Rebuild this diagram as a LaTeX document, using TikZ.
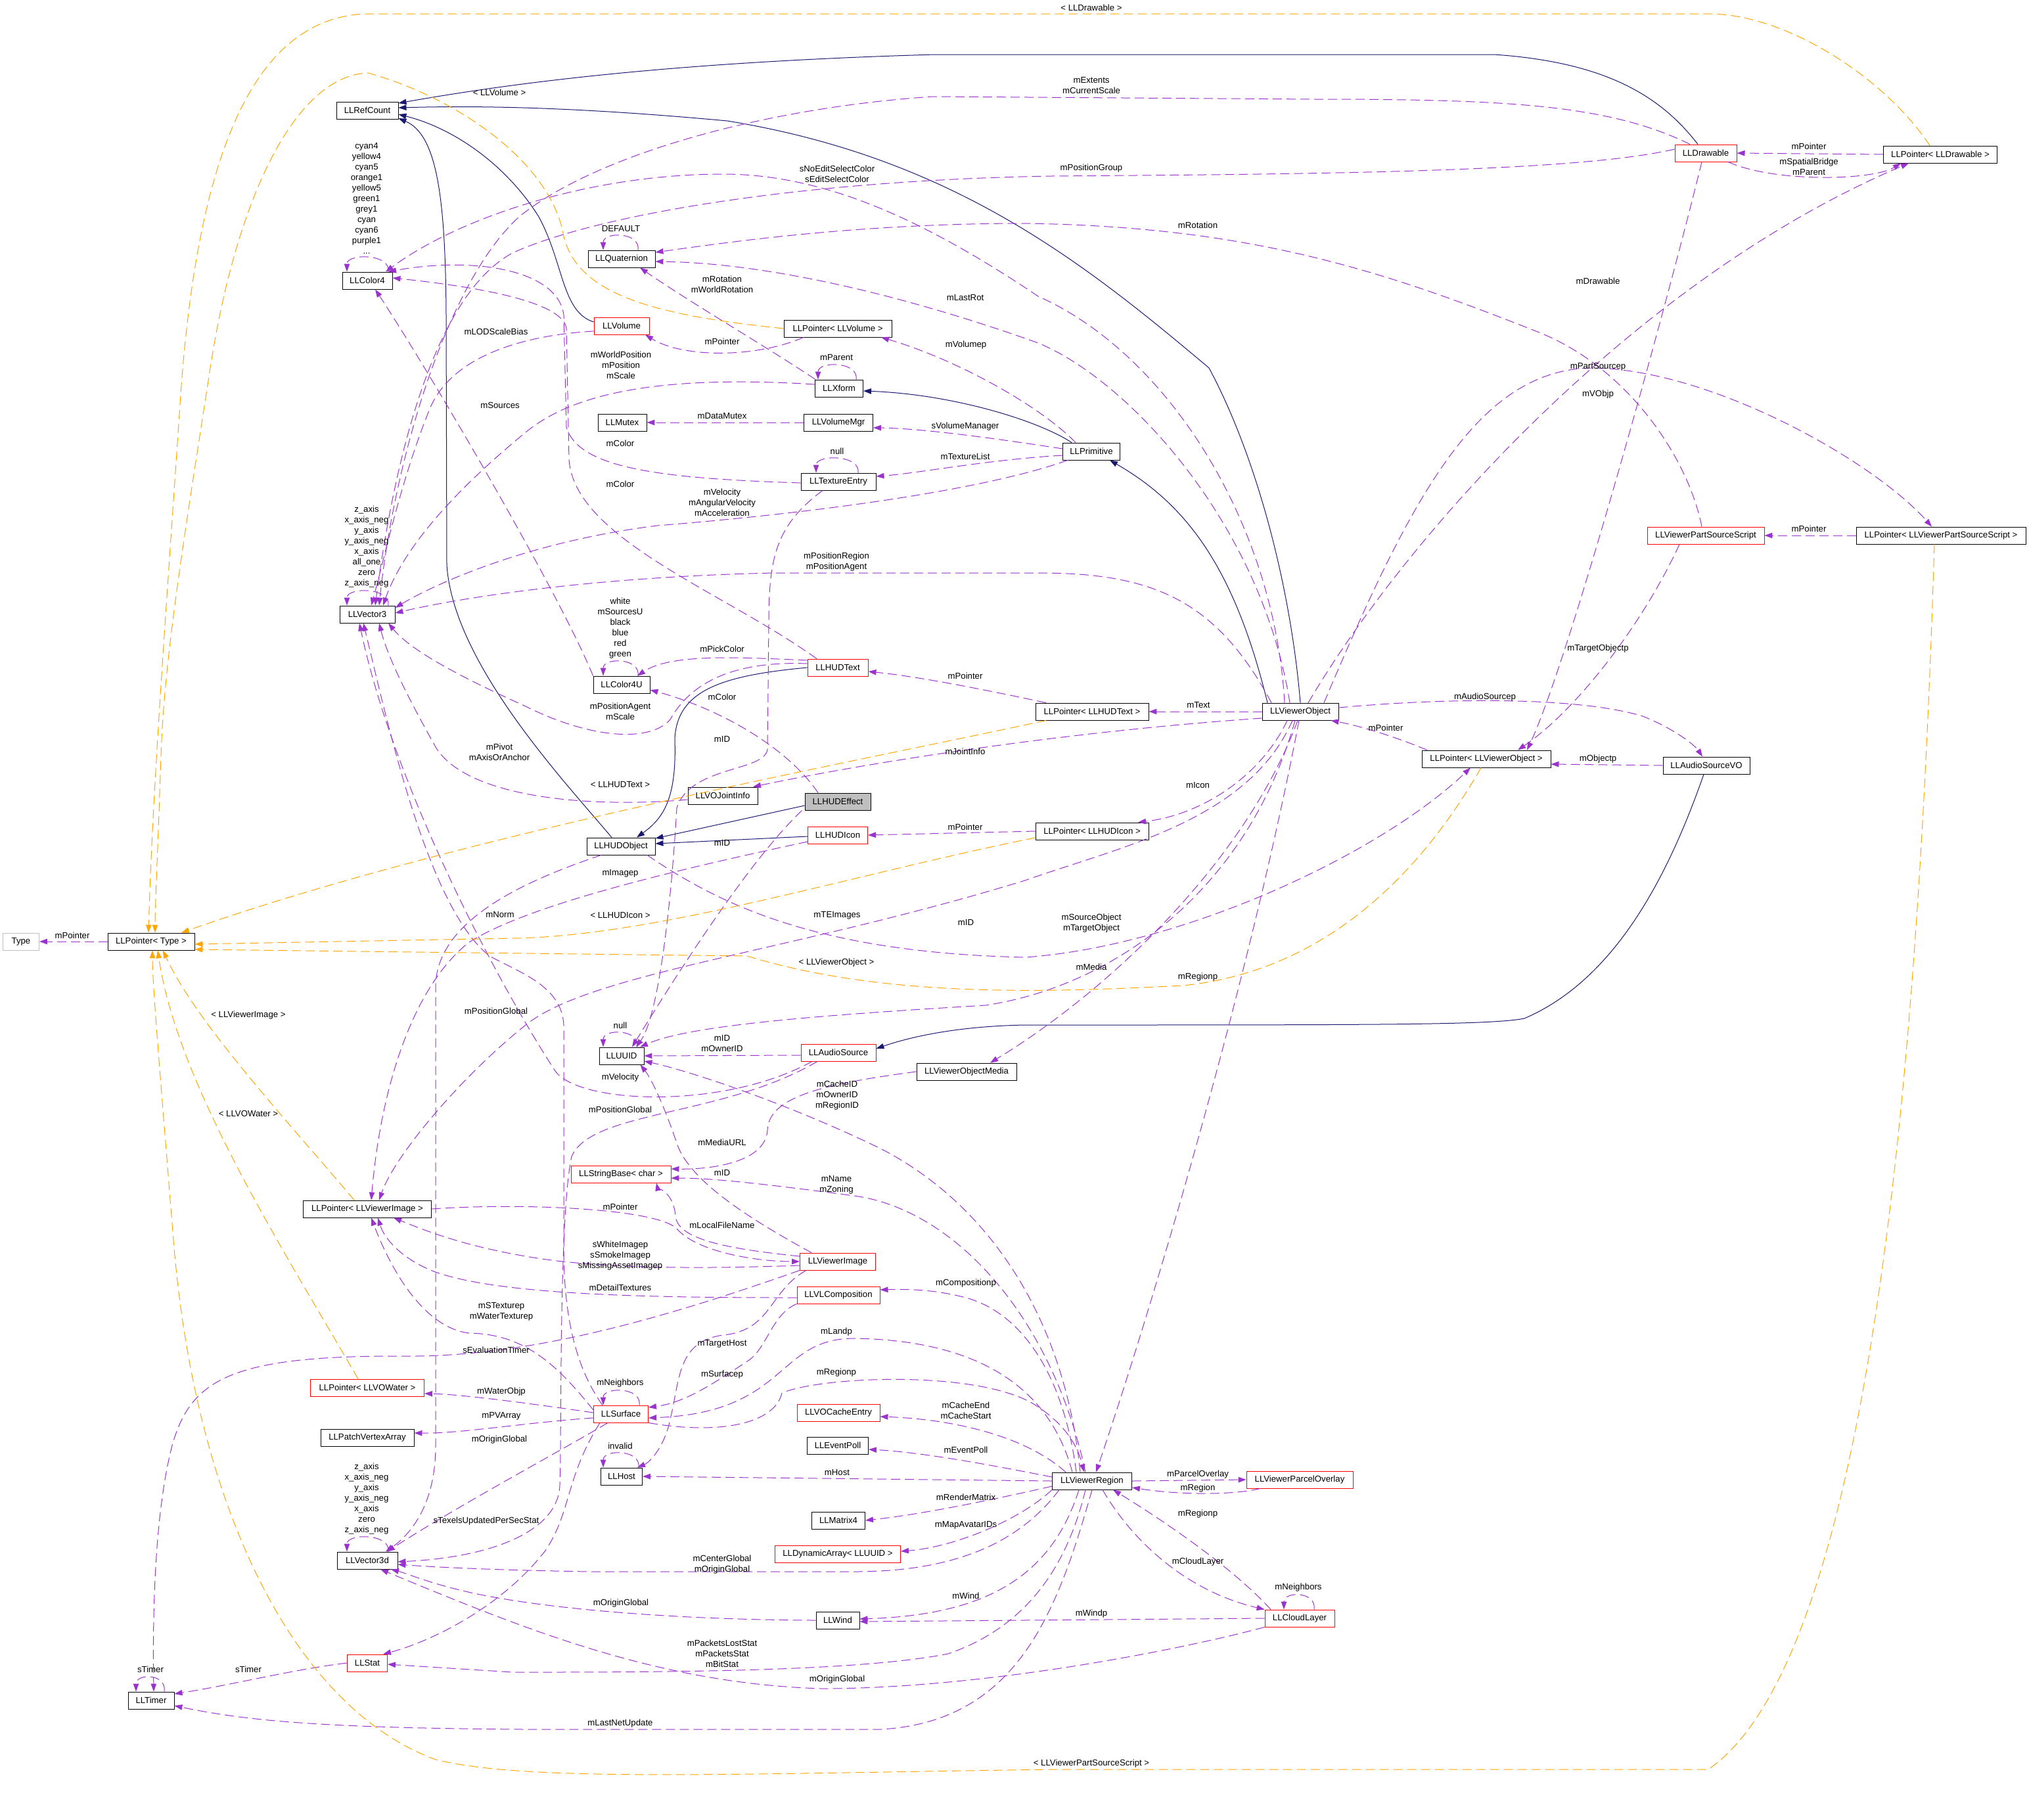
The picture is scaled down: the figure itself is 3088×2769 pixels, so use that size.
\documentclass[tikz,border=0pt]{standalone}
\usepackage{fontspec}
\setmainfont{Liberation Sans}
\usetikzlibrary{arrows.meta}
\definecolor{inhc}{HTML}{191970}
\definecolor{usec}{HTML}{9A32CD}
\definecolor{tplc}{HTML}{FFA500}
\definecolor{grayc}{HTML}{BFBFBF}
\begin{document}
\begin{tikzpicture}[x=0.5pt,y=-0.5pt,
  every node/.style={font=\fontsize{6.6}{8}\selectfont},
  cls/.style={draw=black,line width=0.45pt,minimum height=13pt,inner sep=0pt},
  redcls/.style={cls,draw=red},
  lbl/.style={align=center,inner sep=0pt},
  inh/.style={draw=inhc,line width=0.5pt,-{Triangle[length=6pt,width=4.2pt]}},
  use/.style={draw=usec,line width=0.5pt,dash pattern=on 7pt off 3.5pt,-{Triangle[length=6pt,width=4.2pt]}},
  tpl/.style={draw=tplc,line width=0.5pt,dash pattern=on 7pt off 3.5pt,-{Triangle[length=6pt,width=4.2pt]}}]
\fill[white] (0,0) rectangle (3088,2769);
\useasboundingbox (0,0) rectangle (3088,2769);
% ---------------- nodes ----------------
\node[cls,minimum width=47pt] (refcount) at (559,168) {LLRefCount};
\node[cls,minimum width=38pt] (color4) at (559,427) {LLColor4};
\node[cls,minimum width=42pt] (vec3) at (559,935) {LLVector3};
\node[cls,draw=grayc,minimum width=27.5pt] (typ) at (32,1433) {Type};
\node[cls,minimum width=66pt] (ptype) at (230,1433) {LLPointer< Type >};
\node[cls,minimum width=97.5pt] (pvimg) at (559,1840) {LLPointer< LLViewerImage >};
\node[redcls,minimum width=86.5pt] (pwater) at (559,2112) {LLPointer< LLVOWater >};
\node[cls,minimum width=71pt] (patch) at (559,2188) {LLPatchVertexArray};
\node[cls,minimum width=46pt] (vec3d) at (559,2375) {LLVector3d};
\node[redcls,minimum width=30.5pt] (stat) at (559,2531) {LLStat};
\node[cls,minimum width=35pt] (timer) at (230,2588) {LLTimer};
\node[cls,minimum width=51pt] (quat) at (946,394) {LLQuaternion};
\node[redcls,minimum width=42pt] (volume) at (946,496) {LLVolume};
\node[cls,minimum width=82pt] (pvol) at (1275,500) {LLPointer< LLVolume >};
\node[cls,minimum width=36.5pt] (xform) at (1277,591) {LLXform};
\node[cls,minimum width=37pt] (mutex) at (947,643) {LLMutex};
\node[cls,minimum width=52.5pt] (volmgr) at (1276,643) {LLVolumeMgr};
\node[cls,minimum width=57pt] (texentry) at (1276,733) {LLTextureEntry};
\node[cls,minimum width=43.5pt] (prim) at (1661,687) {LLPrimitive};
\node[redcls,minimum width=47pt] (drawable) at (2596,233) {LLDrawable};
\node[cls,minimum width=86.5pt] (pdraw) at (2953,235) {LLPointer< LLDrawable >};
\node[redcls,minimum width=89pt] (partsrc) at (2596,815) {LLViewerPartSourceScript};
\node[cls,minimum width=129pt] (ppartsrc) at (2954,815) {LLPointer< LLViewerPartSourceScript >};
\node[cls,minimum width=43pt] (color4u) at (946,1042) {LLColor4U};
\node[redcls,minimum width=46pt] (hudtext) at (1275,1016) {LLHUDText};
\node[cls,minimum width=53pt] (joint) at (1100,1211) {LLVOJointInfo};
\node[cls,fill=grayc,minimum width=50pt] (hudeffect) at (1275,1220) {LLHUDEffect};
\node[cls,minimum width=52pt] (hudobj) at (945,1288) {LLHUDObject};
\node[redcls,minimum width=45.5pt] (hudicon) at (1275,1271) {LLHUDIcon};
\node[cls,minimum width=34pt] (uuid) at (946,1607) {LLUUID};
\node[redcls,minimum width=57pt] (audiosrc) at (1276,1602) {LLAudioSource};
\node[cls,minimum width=76pt] (objmedia) at (1471,1631) {LLViewerObjectMedia};
\node[redcls,minimum width=76pt] (strbase) at (945,1787) {LLStringBase< char >};
\node[cls,minimum width=86pt] (phudtext) at (1662,1083) {LLPointer< LLHUDText >};
\node[cls,minimum width=58pt] (vobj) at (1979,1083) {LLViewerObject};
\node[cls,minimum width=98pt] (pvobj) at (2262,1155) {LLPointer< LLViewerObject >};
\node[cls,minimum width=86pt] (phudicon) at (1662,1265) {LLPointer< LLHUDIcon >};
\node[cls,minimum width=66pt] (audiovo) at (2597,1165) {LLAudioSourceVO};
\node[redcls,minimum width=57.5pt] (vimg) at (1275,1920) {LLViewerImage};
\node[redcls,minimum width=63pt] (vlcomp) at (1276,1971) {LLVLComposition};
\node[redcls,minimum width=41.5pt] (surface) at (945,2152) {LLSurface};
\node[redcls,minimum width=63pt] (cache) at (1276,2150) {LLVOCacheEntry};
\node[cls,minimum width=46.5pt] (eventpoll) at (1275,2200) {LLEventPoll};
\node[cls,minimum width=31.5pt] (host) at (946,2247) {LLHost};
\node[cls,minimum width=40.5pt] (matrix) at (1276,2314) {LLMatrix4};
\node[redcls,minimum width=95.5pt] (dynarr) at (1275,2365) {LLDynamicArray< LLUUID >};
\node[cls,minimum width=33pt] (wind) at (1275,2466) {LLWind};
\node[cls,minimum width=60.5pt] (region) at (1662,2254) {LLViewerRegion};
\node[redcls,minimum width=81pt] (parcel) at (1978,2252) {LLViewerParcelOverlay};
\node[redcls,minimum width=53pt] (cloud) at (1978,2463) {LLCloudLayer};
% ---------------- inheritance ----------------
\draw[inh] ([xshift=-6pt]drawable.north) .. controls (2530,150) and (2450,95) .. (2274,83) -- (1423,83) .. controls (1000,95) and (760,130) .. ([yshift=5.5pt]refcount.east);
\draw[inh] (vobj.north) .. controls (1965,900) and (1915,700) .. (1840,560) .. controls (1650,400) and (1450,240) .. (1107,184) .. controls (900,165) and (750,160) .. ([yshift=2pt]refcount.east);
\draw[inh] ([yshift=3pt]volume.west) .. controls (855,475) and (858,400) .. (820,330) .. controls (770,250) and (690,195) .. ([yshift=-3pt]refcount.east);
\draw[inh] ([xshift=-7pt]hudobj.north) .. controls (860,1190) and (690,1010) .. (680,860) -- (679,480) .. controls (678,300) and (665,205) .. ([yshift=-6pt]refcount.east);
\draw[inh] ([xshift=-15pt]prim.north) .. controls (1580,640) and (1450,600) .. ([yshift=-2pt]xform.east);
\draw[inh] ([xshift=-25pt]vobj.north) .. controls (1880,870) and (1810,770) .. ([xshift=14pt]prim.south);
\draw[inh] (hudtext.west) .. controls (1100,1028) and (1030,1050) .. (1027,1125) .. controls (1030,1215) and (1010,1245) .. ([xshift=12pt]hudobj.north);
\draw[inh] ([yshift=-3pt]hudeffect.west) -- ([yshift=6pt]hudobj.east);
\draw[inh] ([yshift=-1pt]hudicon.west) -- ([yshift=2pt]hudobj.east);
\draw[inh] ([xshift=-2pt]audiovo.south) .. controls (2540,1330) and (2460,1490) .. (2320,1550) .. controls (2270,1560) and (2100,1560) .. (1560,1560) .. controls (1450,1562) and (1380,1580) .. ([yshift=3pt]audiosrc.east);
% ---------------- self loops ----------------
\draw[use] ([xshift=16pt]color4.north) .. controls +(2pt,14pt) and +(0pt,14pt) .. ([xshift=-15.5pt]color4.north);
\draw[use] ([xshift=16pt]vec3.north) .. controls +(2pt,14pt) and +(0pt,14pt) .. ([xshift=-15.5pt]vec3.north);
\draw[use] ([xshift=12.5pt]quat.north) .. controls +(2pt,14pt) and +(0pt,14pt) .. ([xshift=-14pt]quat.north);
\draw[use] ([xshift=13pt]xform.north) .. controls +(2pt,14pt) and +(0pt,14pt) .. ([xshift=-16pt]xform.north);
\draw[use] ([xshift=15pt]texentry.north) .. controls +(2pt,14pt) and +(0pt,14pt) .. ([xshift=-17pt]texentry.north);
\draw[use] ([xshift=12.5pt]color4u.north) .. controls +(2pt,14pt) and +(0pt,14pt) .. ([xshift=-14pt]color4u.north);
\draw[use] ([xshift=12pt]uuid.north) .. controls +(2pt,14pt) and +(0pt,14pt) .. ([xshift=-14pt]uuid.north);
\draw[use] ([xshift=14pt]surface.north) .. controls +(2pt,14pt) and +(0pt,14pt) .. ([xshift=-13.5pt]surface.north);
\draw[use] ([xshift=13pt]host.north) .. controls +(2pt,14pt) and +(0pt,14pt) .. ([xshift=-14pt]host.north);
\draw[use] ([xshift=16pt]vec3d.north) .. controls +(2pt,14pt) and +(0pt,14pt) .. ([xshift=-15.5pt]vec3d.north);
\draw[use] ([xshift=10pt]timer.north) .. controls +(2pt,14pt) and +(0pt,14pt) .. ([xshift=-11.5pt]timer.north);
\draw[use] ([xshift=11pt]cloud.north) .. controls +(2pt,14pt) and +(0pt,14pt) .. ([xshift=-12pt]cloud.north);
% ---------------- usage: upper part ----------------
\draw[use] ([xshift=-12pt]vobj.north) .. controls (1940,800) and (1780,540) .. (1580,451) .. controls (1400,330) and (1250,265) .. (1100,265) .. controls (900,265) and (700,330) .. ([xshift=14pt]color4.north);
\draw[use] ([xshift=-12pt]drawable.north) .. controls (2450,160) and (2300,151) .. (2000,151) -- (1420,147) .. controls (1150,165) and (900,240) .. (790,330) .. controls (680,430) and (600,700) .. ([xshift=9pt]vec3.north);
\draw[use] ([yshift=3pt]drawable.west) .. controls (2400,262) and (2000,265) .. (1600,268) .. controls (1200,275) and (900,330) .. (780,385) .. controls (660,450) and (600,700) .. ([xshift=6pt]vec3.north);
\draw[use] ([yshift=-1pt]texentry.west) .. controls (1000,728) and (880,712) .. (862,650) -- (858,480) .. controls (850,410) and (720,390) .. ([xshift=16pt]color4.north);
\draw[use] ([xshift=-16pt]hudtext.north) .. controls (1100,900) and (875,820) .. (866,700) -- (862,500) .. controls (858,465) and (760,440) .. ([yshift=2pt]color4.east);
\draw[use] (color4u.north west) .. controls (850,900) and (650,560) .. ([xshift=6pt]color4.south);
\draw[use] ([yshift=-4pt]volume.west) .. controls (800,510) and (690,540) .. (655,620) .. controls (610,730) and (585,850) .. ([xshift=3pt]vec3.north);
\draw[use] ([yshift=3pt]xform.west) .. controls (1000,570) and (870,600) .. (800,658) .. controls (700,740) and (615,830) .. ([xshift=12pt]vec3.north);
\draw[use] ([xshift=-18pt]prim.south) .. controls (1500,745) and (1250,780) .. (1000,800) .. controls (800,825) and (660,890) .. ([yshift=5pt]vec3.east);
\draw[use] ([xshift=-22pt]vobj.north) .. controls (1850,910) and (1750,872) .. (1580,872) -- (1178,872) .. controls (900,878) and (700,910) .. ([yshift=1pt]vec3.east);
\draw[use] ([yshift=-3pt]joint.west) .. controls (900,1230) and (710,1215) .. (663,1137) .. controls (620,1060) and (590,1000) .. ([xshift=9pt]vec3.south);
\draw[use] ([yshift=3pt]hudtext.west) .. controls (1100,1005) and (1045,1050) .. (1020,1095) .. controls (990,1130) and (900,1125) .. (800,1075) .. controls (700,1030) and (625,990) .. ([xshift=16pt]vec3.south);
\draw[use] ([xshift=-14pt]surface.north) .. controls (875,2080) and (858,2000) .. (858,1900) -- (858,1560) .. controls (855,1500) and (790,1480) .. (745,1455) .. controls (650,1380) and (590,1100) .. ([xshift=-3pt]vec3.south);
\draw[use] ([xshift=-15pt]hudobj.south) .. controls (800,1340) and (665,1400) .. (663,1500) -- (663,2200) .. controls (663,2290) and (625,2335) .. ([xshift=14pt]vec3d.north);
\draw[use] ([xshift=-18pt]xform.north) .. controls (1170,530) and (1050,460) .. ([xshift=14pt]quat.south);
\draw[use] ([xshift=-8pt]vobj.north) .. controls (1920,800) and (1720,580) .. (1580,522) .. controls (1350,440) and (1150,400) .. ([yshift=-2pt]quat.east);
\draw[use] ([xshift=-3pt]partsrc.north) .. controls (2570,700) and (2480,560) .. (2340,505) .. controls (2100,410) and (1900,345) .. (1560,340) .. controls (1300,340) and (1100,370) .. ([yshift=5pt]quat.east);
\draw[use] ([xshift=-26pt]pvol.south) .. controls (1150,545) and (1040,545) .. ([xshift=18pt]volume.south);
\draw[use] ([xshift=-12pt]prim.north) .. controls (1580,615) and (1450,545) .. ([xshift=33pt]pvol.south);
\draw[use] (volmgr.west) -- (mutex.east);
\draw[use] ([yshift=2pt]prim.west) .. controls (1500,665) and (1400,652) .. ([yshift=-4pt]volmgr.east);
\draw[use] ([yshift=-3pt]prim.west) .. controls (1500,700) and (1400,720) .. ([yshift=4pt]texentry.east);
\draw[use] (pdraw.west) -- (drawable.east);
\draw[use] ([xshift=17pt]drawable.south) .. controls (2700,278) and (2850,275) .. ([xshift=-30pt]pdraw.south);
\draw[use] ([xshift=6pt]vobj.north) .. controls (2150,800) and (2500,420) .. ([xshift=-24pt]pdraw.south);
\draw[use] ([xshift=-3pt]drawable.south) .. controls (2540,450) and (2390,1000) .. ([xshift=31pt]pvobj.north);
\draw[use] ([xshift=-20pt]partsrc.south) .. controls (2500,950) and (2400,1080) .. ([xshift=24pt]pvobj.north);
\draw[use] ([xshift=18pt]vobj.north) .. controls (2150,750) and (2250,565) .. (2420,560) .. controls (2600,560) and (2850,700) .. ([xshift=-7pt]ppartsrc.north);
\draw[use] (ppartsrc.west) -- (partsrc.east);
% ---------------- usage: middle ----------------
\draw[use] ([yshift=5.5pt]hudtext.west) .. controls (1120,1000) and (1020,995) .. ([xshift=12pt]color4u.north);
\draw[use] ([xshift=-15pt]hudeffect.north) .. controls (1200,1140) and (1100,1080) .. ([yshift=-4pt]color4u.east);
\draw[use] ([xshift=-35pt]phudtext.north) .. controls (1500,1050) and (1400,1030) .. ([yshift=-3pt]hudtext.east);
\draw[use] (vobj.west) -- (phudtext.east);
\draw[use] ([yshift=-5pt]vobj.west) .. controls (1600,1115) and (1300,1165) .. ([xshift=23pt]joint.north);
\draw[use] (phudicon.west) -- (hudicon.east);
\draw[use] ([xshift=-10pt]vobj.south) .. controls (1920,1180) and (1830,1240) .. ([xshift=35pt]phudicon.north);
\draw[use] ([yshift=-5pt]hudicon.west) .. controls (1000,1330) and (800,1380) .. (714,1434) .. controls (630,1500) and (580,1650) .. ([xshift=3pt]pvimg.north);
\draw[use] ([xshift=20pt]hudobj.south) .. controls (1100,1380) and (1250,1450) .. (1560,1457) .. controls (1800,1440) and (2100,1300) .. ([xshift=-12pt]pvobj.south);
\draw[use] ([xshift=-6pt]vobj.south) .. controls (1900,1250) and (1700,1290) .. (1560,1340) .. controls (1200,1450) and (900,1480) .. (800,1560) .. controls (700,1640) and (600,1760) .. ([xshift=9pt]pvimg.north);
\draw[use] ([xshift=-4pt]vobj.south) .. controls (1900,1350) and (1700,1500) .. (1500,1530) .. controls (1250,1545) and (1050,1560) .. ([xshift=14pt]uuid.north);
\draw[use] ([xshift=-2pt]hudeffect.south west) .. controls (1150,1300) and (1050,1450) .. ([xshift=8pt]uuid.north);
\draw[use] ([xshift=-12pt]texentry.south) .. controls (1180,800) and (1170,850) .. (1170,950) -- (1168,1140) .. controls (1165,1175) and (1050,1165) .. (1030,1230) .. controls (1020,1400) and (1000,1550) .. ([xshift=11pt]uuid.north);
\draw[use] ([yshift=-2pt]audiosrc.west) -- (uuid.east);
\draw[use] ([xshift=-9pt]region.north) .. controls (1620,2000) and (1500,1830) .. (1340,1748) .. controls (1200,1680) and (1050,1630) .. ([yshift=-4pt]uuid.east);
\draw[use] ([xshift=-20pt]audiosrc.south) .. controls (1100,1690) and (880,1680) .. (845,1630) .. controls (760,1500) and (600,1200) .. ([xshift=-6pt]vec3.south);
\draw[use] ([xshift=-16pt]audiosrc.south) .. controls (1100,1700) and (900,1690) .. (870,1760) .. controls (850,1850) and (855,2200) .. (852,2260) .. controls (850,2330) and (750,2370) .. ([yshift=-1pt]vec3d.east);
\draw[use] (objmedia.west) .. controls (1250,1650) and (1170,1670) .. (1168,1720) .. controls (1165,1770) and (1080,1780) .. ([yshift=4pt]strbase.east);
\draw[use] ([xshift=-2pt]vobj.south) .. controls (1900,1300) and (1700,1500) .. ([xshift=18pt]objmedia.north);
\draw[use] ([xshift=-1pt]vobj.south) .. controls (1900,1500) and (1750,2000) .. ([xshift=3pt]region.north);
\draw[use] ([xshift=-45pt]pvobj.north) .. controls (2120,1120) and (2070,1105) .. ([xshift=-6pt]vobj.south east);
\draw[use] ([yshift=3pt]vobj.east) .. controls (2200,1062) and (2400,1060) .. (2500,1090) .. controls (2550,1110) and (2580,1135) .. ([xshift=-3pt]audiovo.north);
\draw[use] (audiovo.west) -- ([yshift=-4pt]pvobj.east);
\draw[use] (ptype.west) -- (typ.east);
% ---------------- usage: lower part ----------------
\draw[use] ([yshift=4pt]vimg.west) .. controls (1100,1900) and (1030,1885) .. (1028,1850) .. controls (1025,1815) and (1000,1805) .. ([xshift=27pt]strbase.south);
\draw[use] ([xshift=-20pt]vimg.north) .. controls (1150,1860) and (1050,1800) .. (1030,1740) .. controls (1010,1680) and (990,1640) .. ([xshift=-3pt]uuid.south east);
\draw[use] ([xshift=-5pt]region.north) .. controls (1600,2000) and (1450,1840) .. (1300,1820) .. controls (1150,1800) and (1080,1793) .. ([yshift=-3pt]strbase.east);
\draw[use] ([yshift=-3pt]vimg.west) .. controls (1050,1932) and (900,1930) .. (800,1912) .. controls (700,1895) and (640,1870) .. ([xshift=20pt]pvimg.south);
\draw[use] (pvimg.east) .. controls (800,1830) and (1000,1840) .. (1030,1870) .. controls (1060,1905) and (1150,1920) .. (vimg.west);
\draw[use] ([yshift=-2pt]vlcomp.west) .. controls (1000,1975) and (760,1972) .. (660,1935) .. controls (610,1915) and (585,1885) .. ([xshift=8pt]pvimg.south);
\draw[use] ([yshift=3pt]surface.west) .. controls (850,2080) and (800,2030) .. (714,2029) .. controls (640,2020) and (590,1920) .. ([xshift=3pt]pvimg.south);
\draw[use] ([xshift=-24pt]vimg.south) .. controls (1170,1965) and (1175,2025) .. (1100,2032) .. controls (1030,2042) and (1035,2100) .. (1020,2160) .. controls (1012,2200) and (990,2225) .. ([xshift=12pt]host.north);
\draw[use] (vimg.south west) .. controls (1000,2010) and (800,2066) .. (612,2064) .. controls (350,2063) and (290,2100) .. (262,2200) .. controls (236,2300) and (232,2450) .. ([xshift=2pt]timer.north);
\draw[use] ([yshift=1pt]surface.west) .. controls (800,2135) and (700,2122) .. ([yshift=-4.5pt]pwater.east);
\draw[use] ([yshift=-3pt]surface.west) .. controls (800,2165) and (700,2182) .. ([yshift=3.5pt]patch.east);
\draw[use] ([xshift=-10pt]surface.south) .. controls (850,2210) and (700,2290) .. ([xshift=15pt]vec3d.north);
\draw[use] ([xshift=-16pt]surface.south) .. controls (860,2250) and (870,2300) .. (830,2360) .. controls (760,2450) and (650,2500) .. ([xshift=12pt]stat.north);
\draw[use] (vlcomp.south west) .. controls (1175,2000) and (1168,2050) .. (1140,2070) .. controls (1080,2110) and (1040,2135) .. ([yshift=5pt]surface.east);
\draw[use] ([xshift=-15pt]region.north) .. controls (1600,2120) and (1500,2040) .. (1300,2037) .. controls (1180,2037) and (1200,2150) .. ([yshift=-3pt]surface.east);
\draw[use] (surface.south east) .. controls (1100,2185) and (1180,2165) .. (1190,2120) .. controls (1250,2095) and (1480,2085) .. (1570,2135) .. controls (1620,2165) and (1640,2200) .. ([xshift=-6pt]region.north);
\draw[use] ([xshift=-12pt]region.north) .. controls (1620,2100) and (1560,2000) .. (1470,1975) .. controls (1420,1962) and (1380,1962) .. ([yshift=4pt]vlcomp.east);
\draw[use] ([xshift=-20pt]region.north) .. controls (1560,2185) and (1450,2160) .. ([yshift=-3pt]cache.east);
\draw[use] ([yshift=3pt]region.west) .. controls (1500,2228) and (1400,2210) .. ([yshift=-3pt]eventpoll.east);
\draw[use] (region.west) -- (host.east);
\draw[use] ([yshift=-4pt]region.west) .. controls (1500,2285) and (1400,2305) .. (matrix.east);
\draw[use] (region.south west) .. controls (1550,2315) and (1450,2355) .. ([yshift=2pt]dynarr.east);
\draw[use] ([xshift=-25pt]region.south) .. controls (1550,2350) and (1450,2392) .. (1300,2392) -- (900,2392) .. controls (760,2390) and (660,2385) .. ([yshift=-3pt]vec3d.east);
\draw[use] ([xshift=-10pt]region.south) .. controls (1600,2400) and (1500,2458) .. ([yshift=1pt]wind.east);
\draw[use] (cloud.west) -- ([yshift=-1pt]wind.east);
\draw[use] (wind.west) .. controls (1000,2465) and (800,2445) .. (700,2420) .. controls (650,2408) and (620,2395) .. ([xshift=18pt]vec3d.south);
\draw[use] ([xshift=-5pt]region.south) .. controls (1620,2400) and (1550,2480) .. (1443,2517) .. controls (1300,2545) and (1000,2545) .. (780,2545) -- ([yshift=-1pt]stat.east);
\draw[use] (cloud.south west) .. controls (1800,2510) and (1500,2570) .. (1250,2570) .. controls (1000,2562) and (800,2480) .. ([xshift=10pt]vec3d.south);
\draw[use] (region.south) .. controls (1610,2450) and (1550,2620) .. (1341,2632) -- (800,2632) .. controls (500,2630) and (380,2620) .. ([yshift=-4pt]timer.east);
\draw[use] (stat.west) .. controls (450,2540) and (350,2565) .. ([yshift=5pt]timer.east);
\draw[use] (region.east) -- (parcel.west);
\draw[use] ([xshift=-30pt]parcel.south) .. controls (1880,2275) and (1800,2276) .. ([yshift=-5pt]region.east);
\draw[use] ([xshift=-22pt]cloud.north) .. controls (1880,2390) and (1780,2320) .. ([xshift=16pt]region.south);
\draw[use] ([xshift=8pt]region.south) .. controls (1720,2340) and (1800,2420) .. (cloud.north west);
% ---------------- templates ----------------
\draw[tpl] ([xshift=-35pt]phudtext.south) .. controls (1300,1160) and (700,1270) .. ([xshift=23pt]ptype.north);
\draw[tpl] ([yshift=-5pt]phudicon.west) .. controls (1300,1330) and (1000,1425) .. (780,1428) -- ([yshift=-2pt]ptype.east);
\draw[tpl] ([xshift=-4pt]pvobj.south) .. controls (2150,1350) and (2000,1480) .. (1800,1500) .. controls (1600,1510) and (1350,1520) .. (1137,1455) -- ([yshift=-6pt]ptype.east);
\draw[tpl] ([xshift=-5pt]ppartsrc.south) .. controls (2920,1600) and (2850,2520) .. (2600,2693) -- (1600,2693) .. controls (1100,2700) and (800,2712) .. (663,2678) .. controls (450,2600) and (300,2300) .. (265,1900) .. controls (245,1650) and (232,1500) .. ([xshift=1pt]ptype.south);
\draw[tpl] ([xshift=-8pt]pdraw.north) .. controls (2870,120) and (2720,21) .. (2600,21) -- (560,21) .. controls (380,25) and (300,250) .. (275,600) .. controls (255,900) and (232,1200) .. ([xshift=-2pt]ptype.north);
\draw[tpl] (pvol.west) .. controls (1000,480) and (880,450) .. (858,360) .. controls (840,250) and (700,150) .. (560,111) .. controls (450,115) and (360,300) .. (320,560) .. controls (280,820) and (250,1000) .. (245,1150) .. controls (240,1300) and (236,1380) .. ([xshift=3pt]ptype.north);
\draw[tpl] ([xshift=-10pt]pvimg.north) .. controls (450,1720) and (300,1560) .. ([xshift=9pt]ptype.south);
\draw[tpl] ([xshift=-7pt]pwater.north) .. controls (430,1900) and (270,1650) .. ([xshift=5pt]ptype.south);
% ---------------- labels ----------------
\node[lbl] (l1) at (1661,12) {< LLDrawable >};
\node[lbl] (l2) at (1661,130) {mExtents\\mCurrentScale};
\node[lbl] (l3) at (760,141) {< LLVolume >};
\node[lbl] (l4) at (1661,256) {mPositionGroup};
\node[lbl] (l5) at (1274,265) {sNoEditSelectColor\\sEditSelectColor};
\node[lbl] (l6) at (1823,343) {mRotation};
\node[lbl] (l7) at (945,348) {DEFAULT};
\node[lbl] (l8) at (1099,433) {mRotation\\mWorldRotation};
\node[lbl] (l9) at (1469,453) {mLastRot};
\node[lbl] (l10) at (755,505) {mLODScaleBias};
\node[lbl] (l11) at (1099,520) {mPointer};
\node[lbl] (l12) at (1470,525) {mVolumep};
\node[lbl] (l13) at (1273,544) {mParent};
\node[lbl] (l14) at (945,556) {mWorldPosition\\mPosition\\mScale};
\node[lbl] (l15) at (761,617) {mSources};
\node[lbl] (l16) at (1099,633) {mDataMutex};
\node[lbl] (l17) at (1469,649) {sVolumeManager};
\node[lbl] (l18) at (944,675) {mColor};
\node[lbl] (l19) at (1274,687) {null};
\node[lbl] (l20) at (1469,695) {mTextureList};
\node[lbl] (l21) at (944,737) {mColor};
\node[lbl] (l22) at (1099,765) {mVelocity\\mAngularVelocity\\mAcceleration};
\node[lbl] (l23) at (1273,855) {mPositionRegion\\mPositionAgent};
\node[lbl] (l24) at (558,301.5) {cyan4\\yellow4\\cyan5\\orange1\\yellow5\\green1\\grey1\\cyan\\cyan6\\purple1\\...};
\node[lbl] (l25) at (558,832) {z\_axis\\x\_axis\_neg\\y\_axis\\y\_axis\_neg\\x\_axis\\all\_one\\zero\\z\_axis\_neg};
\node[lbl] (l26) at (2432,428) {mDrawable};
\node[lbl] (l27) at (2753,223) {mPointer};
\node[lbl] (l28) at (2753,254) {mSpatialBridge\\mParent};
\node[lbl] (l29) at (2432,558) {mPartSourcep};
\node[lbl] (l30) at (2432,600) {mVObjp};
\node[lbl] (l31) at (2753,805) {mPointer};
\node[lbl] (l32) at (944,956) {white\\mSourcesU\\black\\blue\\red\\green};
\node[lbl] (l33) at (1099,988) {mPickColor};
\node[lbl] (l34) at (1469,1029) {mPointer};
\node[lbl] (l35) at (1099,1061) {mColor};
\node[lbl] (l36) at (944,1083) {mPositionAgent\\mScale};
\node[lbl] (l37) at (1099,1125) {mID};
\node[lbl] (l38) at (1469,1144) {mJointInfo};
\node[lbl] (l39) at (760,1145) {mPivot\\mAxisOrAnchor};
\node[lbl] (l40) at (944,1194) {< LLHUDText >};
\node[lbl] (l41) at (1469,1259) {mPointer};
\node[lbl] (l42) at (1099,1283) {mID};
\node[lbl] (l43) at (944,1329) {mImagep};
\node[lbl] (l44) at (761,1392) {mNorm};
\node[lbl] (l45) at (944,1393) {< LLHUDIcon >};
\node[lbl] (l46) at (1274,1393) {mTEImages};
\node[lbl] (l47) at (1470,1404) {mID};
\node[lbl] (l48) at (1273,1465) {< LLViewerObject >};
\node[lbl] (l49) at (110,1424) {mPointer};
\node[lbl] (l50) at (378,1545) {< LLViewerImage >};
\node[lbl] (l51) at (755,1539) {mPositionGlobal};
\node[lbl] (l52) at (944,1561) {null};
\node[lbl] (l53) at (1099,1588) {mID\\mOwnerID};
\node[lbl] (l54) at (944,1640) {mVelocity};
\node[lbl] (l55) at (1274,1667) {mCacheID\\mOwnerID\\mRegionID};
\node[lbl] (l56) at (944,1689) {mPositionGlobal};
\node[lbl] (l57) at (378,1695) {< LLVOWater >};
\node[lbl] (l58) at (1099,1739) {mMediaURL};
\node[lbl] (l59) at (1099,1785) {mID};
\node[lbl] (l60) at (1273,1803) {mName\\mZoning};
\node[lbl] (l61) at (1824,1073) {mText};
\node[lbl] (l62) at (2260,1061) {mAudioSourcep};
\node[lbl] (l63) at (2109,1108) {mPointer};
\node[lbl] (l64) at (1823,1195) {mIcon};
\node[lbl] (l65) at (1661,1405) {mSourceObject\\mTargetObject};
\node[lbl] (l66) at (1661,1472) {mMedia};
\node[lbl] (l67) at (1823,1487) {mRegionp};
\node[lbl] (l68) at (2432,987) {mTargetObjectp};
\node[lbl] (l69) at (2432,1155) {mObjectp};
\node[lbl] (l70) at (944,1837) {mPointer};
\node[lbl] (l71) at (1099,1865) {mLocalFileName};
\node[lbl] (l72) at (944,1911) {sWhiteImagep\\sSmokeImagep\\sMissingAssetImagep};
\node[lbl] (l73) at (944,1960) {mDetailTextures};
\node[lbl] (l74) at (1470,1953) {mCompositionp};
\node[lbl] (l75) at (763,1996) {mSTexturep\\mWaterTexturep};
\node[lbl] (l76) at (1273,2027) {mLandp};
\node[lbl] (l77) at (1099,2045) {mTargetHost};
\node[lbl] (l78) at (755,2055) {sEvaluationTimer};
\node[lbl] (l79) at (1273,2089) {mRegionp};
\node[lbl] (l80) at (1099,2092) {mSurfacep};
\node[lbl] (l81) at (944,2105) {mNeighbors};
\node[lbl] (l82) at (763,2118) {mWaterObjp};
\node[lbl] (l83) at (1470,2147) {mCacheEnd\\mCacheStart};
\node[lbl] (l84) at (763,2155) {mPVArray};
\node[lbl] (l85) at (760,2191) {mOriginGlobal};
\node[lbl] (l86) at (944,2201) {invalid};
\node[lbl] (l87) at (1470,2207) {mEventPoll};
\node[lbl] (l88) at (1274,2241) {mHost};
\node[lbl] (l89) at (1823,2244) {mParcelOverlay};
\node[lbl] (l90) at (1823,2265) {mRegion};
\node[lbl] (l91) at (1470,2279) {mRenderMatrix};
\node[lbl] (l92) at (558,2281) {z\_axis\\x\_axis\_neg\\y\_axis\\y\_axis\_neg\\x\_axis\\zero\\z\_axis\_neg};
\node[lbl] (l93) at (1823,2304) {mRegionp};
\node[lbl] (l94) at (740,2315) {sTexelsUpdatedPerSecStat};
\node[lbl] (l95) at (1470,2321) {mMapAvatarIDs};
\node[lbl] (l96) at (1823,2377) {mCloudLayer};
\node[lbl] (l97) at (1099,2381) {mCenterGlobal\\mOriginGlobal};
\node[lbl] (l98) at (1976,2416) {mNeighbors};
\node[lbl] (l99) at (1470,2429) {mWind};
\node[lbl] (l100) at (945,2440) {mOriginGlobal};
\node[lbl] (l101) at (1661,2456) {mWindp};
\node[lbl] (l102) at (1099,2517) {mPacketsLostStat\\mPacketsStat\\mBitStat};
\node[lbl] (l103) at (229,2541) {sTimer};
\node[lbl] (l104) at (378,2541) {sTimer};
\node[lbl] (l105) at (1274,2556) {mOriginGlobal};
\node[lbl] (l106) at (944,2623) {mLastNetUpdate};
\node[lbl] (l107) at (1661,2684) {< LLViewerPartSourceScript >};
\end{tikzpicture}
\end{document}
